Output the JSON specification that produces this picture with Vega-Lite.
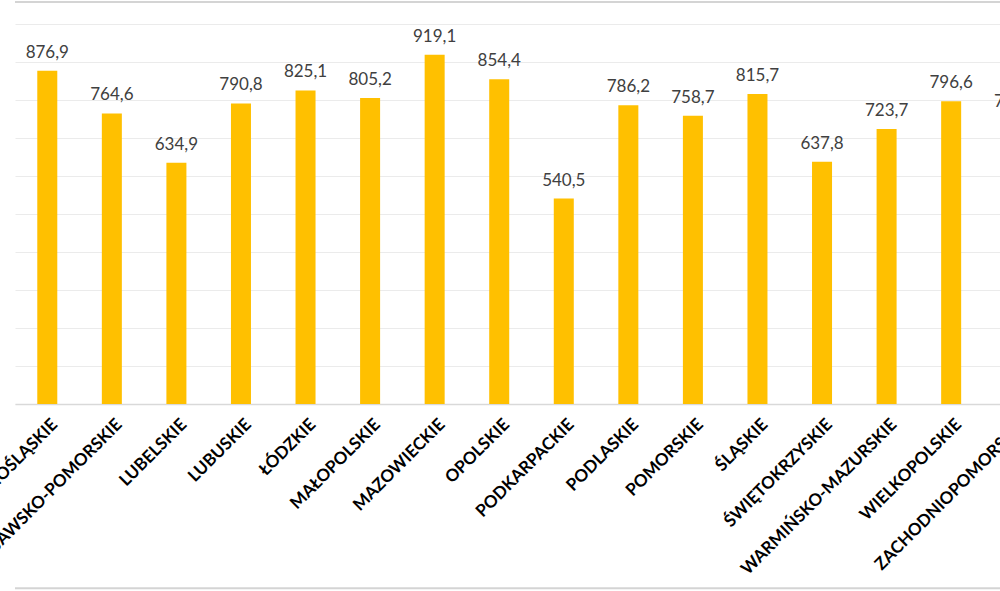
{
  "$schema": "https://vega.github.io/schema/vega-lite/v6.json",
  "width": 985,
  "height": 380,
  "autosize": {"type": "none"},
  "padding": {"left": 15, "top": 24, "right": 0, "bottom": 187},
  "background": "#ffffff",
  "config": {
    "locale": {"number": {"decimal": ",", "thousands": " ", "grouping": [3], "currency": ["", " zł"]}},
    "view": {"stroke": null},
    "font": "Lato"
  },
  "data": {
    "values": [
      {"region": "DOLNOŚLĄSKIE", "value": 876.9},
      {"region": "KUJAWSKO-POMORSKIE", "value": 764.6},
      {"region": "LUBELSKIE", "value": 634.9},
      {"region": "LUBUSKIE", "value": 790.8},
      {"region": "ŁÓDZKIE", "value": 825.1},
      {"region": "MAŁOPOLSKIE", "value": 805.2},
      {"region": "MAZOWIECKIE", "value": 919.1},
      {"region": "OPOLSKIE", "value": 854.4},
      {"region": "PODKARPACKIE", "value": 540.5},
      {"region": "PODLASKIE", "value": 786.2},
      {"region": "POMORSKIE", "value": 758.7},
      {"region": "ŚLĄSKIE", "value": 815.7},
      {"region": "ŚWIĘTOKRZYSKIE", "value": 637.8},
      {"region": "WARMIŃSKO-MAZURSKIE", "value": 723.7},
      {"region": "WIELKOPOLSKIE", "value": 796.6},
      {"region": "ZACHODNIOPOMORSKIE", "value": 748.5}
    ]
  },
  "encoding": {
    "x": {
      "field": "region",
      "type": "nominal",
      "sort": null,
      "scale": {"range": [0, 1033], "paddingInner": 0.69, "paddingOuter": 0.345},
      "axis": {
        "title": null,
        "labelAngle": -45,
        "labelFont": "Lato",
        "labelFontWeight": "bold",
        "labelFontSize": 17,
        "labelColor": "#000000",
        "labelPadding": 12,
        "labelOffset": 2,
        "ticks": false,
        "domainColor": "#d9d9d9",
        "domainWidth": 1.5,
        "labelOverlap": false,
        "labelLimit": 0
      }
    },
    "y": {
      "field": "value",
      "type": "quantitative",
      "scale": {"domain": [0, 1000], "nice": false},
      "axis": {
        "title": null,
        "labels": false,
        "ticks": false,
        "domain": false,
        "values": [0, 100, 200, 300, 400, 500, 600, 700, 800, 900, 1000],
        "gridColor": "#ebebeb",
        "gridWidth": 1
      }
    }
  },
  "layer": [
    {"mark": {"type": "bar", "color": "#ffc000"}},
    {
      "mark": {"type": "text", "baseline": "alphabetic", "dy": -13, "fontSize": 17, "color": "#404040", "font": "Lato"},
      "encoding": {"text": {"field": "value", "type": "quantitative", "format": ".1f"}}
    },
    {
      "data": {"values": [{"edge": 1058}, {"edge": -485}]},
      "mark": {"type": "rule", "color": "#d4d4d4", "strokeWidth": 2, "clip": false},
      "encoding": {"y": {"field": "edge", "type": "quantitative"}, "x": null}
    }
  ]
}
